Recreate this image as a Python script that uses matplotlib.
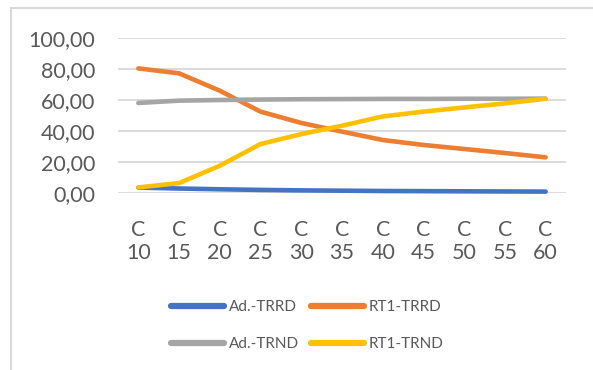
import matplotlib
matplotlib.use("Agg")
import matplotlib.pyplot as plt
from matplotlib.patches import Rectangle

categories = ["C\n10", "C\n15", "C\n20", "C\n25", "C\n30", "C\n35",
              "C\n40", "C\n45", "C\n50", "C\n55", "C\n60"]

ad_trrd = [3.3, 2.7, 2.2, 1.8, 1.5, 1.3, 1.1, 1.0, 0.9, 0.8, 0.7]
rt1_trrd = [80.2, 77.0, 65.8, 52.3, 45.0, 39.4, 34.0, 30.8, 28.2, 25.6, 22.8]
ad_trnd = [57.9, 59.4, 59.8, 60.1, 60.3, 60.4, 60.5, 60.5, 60.6, 60.6, 60.7]
rt1_trnd = [3.4, 6.2, 17.4, 31.4, 37.8, 43.2, 49.2, 52.3, 55.0, 57.6, 60.6]

yticks = [0, 20, 40, 60, 80, 100]
ytick_labels = ["0,00", "20,00", "40,00", "60,00", "80,00", "100,00"]

series = [
    ("Ad.-TRRD", ad_trrd, "#4472C4"),
    ("RT1-TRRD", rt1_trrd, "#ED7D31"),
    ("Ad.-TRND", ad_trnd, "#A5A5A5"),
    ("RT1-TRND", rt1_trnd, "#FFC000"),
]

plt.rcParams["font.family"] = ["Lato", "DejaVu Sans"]
text_color = "#595959"
grid_color = "#D9D9D9"

fig = plt.figure(figsize=(5.93, 3.70), dpi=100)
fig.patch.set_facecolor("white")

# outer chart frame
fig.patches.append(Rectangle((11 / 593, -0.2), 1.2, 1.2 + (370 - 8.5) / 370 - 1.0,
                             transform=fig.transFigure, fill=False,
                             edgecolor=grid_color, linewidth=1.5))

ax = fig.add_axes([118 / 593, 1 - 192.7 / 370, 448 / 593, 155 / 370])
x = list(range(len(categories)))
handles = {}
for name, vals, color in series:
    (ln,) = ax.plot(x, vals, color=color, linewidth=3.3,
                    solid_capstyle="round", solid_joinstyle="round",
                    label=name, clip_on=False)
    handles[name] = ln

ax.set_xlim(-0.5, len(categories) - 0.5)
ax.set_ylim(0, 100)
ax.set_yticks(yticks)
ax.set_yticklabels(ytick_labels)
ax.set_xticks(x)
ax.set_xticklabels(categories, linespacing=1.22)
ax.tick_params(axis="both", length=0, labelsize=15.5, colors=text_color)
ax.tick_params(axis="y", pad=16.5)
ax.tick_params(axis="x", pad=19.5)
ax.grid(axis="y", color=grid_color, linewidth=1.3)
ax.set_axisbelow(True)
for sp in ax.spines.values():
    sp.set_visible(False)

order = ["Ad.-TRRD", "Ad.-TRND", "RT1-TRRD", "RT1-TRND"]
leg = fig.legend([handles[n] for n in order], order, ncol=2,
                 loc="center", bbox_to_anchor=(0.518, 0.12),
                 frameon=False, fontsize=11, handlelength=3.5,
                 handletextpad=0.3, columnspacing=0.8, labelspacing=1.5)
for t in leg.get_texts():
    t.set_color(text_color)
for lh in leg.get_lines():
    lh.set_linewidth(4.5)
    lh.set_solid_capstyle("round")

fig.savefig("out.png", dpi=100, facecolor="white")
